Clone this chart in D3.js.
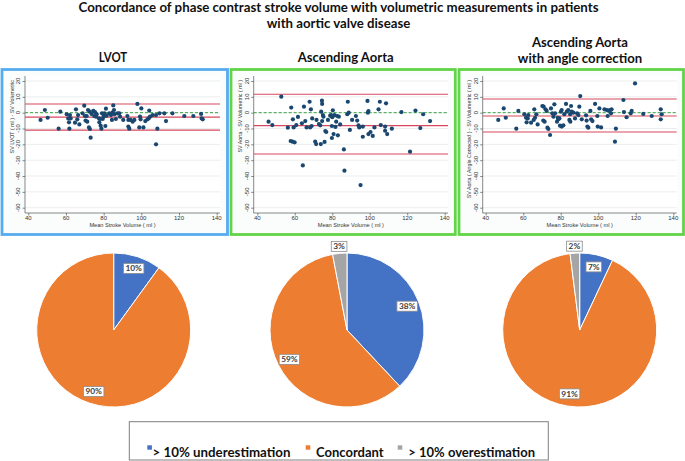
<!DOCTYPE html>
<html><head><meta charset="utf-8">
<script src="https://cdn.jsdelivr.net/npm/d3@7"></script>
<style>body{margin:0;background:#fff}svg{display:block}</style>
</head><body><svg id="c" width="685" height="461"></svg>
<script>
// ---------------- DATA ----------------
const titleLines = ["Concordance of phase contrast stroke volume with volumetric measurements in patients", "with aortic valve disease"];
const panelTitles = [["LVOT"], ["Ascending Aorta"], ["Ascending Aorta", "with angle correction"]];
const yAxisTitles = ["SV LVOT ( ml ) - SV Volumetric", "SV Aorta - SV Volumetric ( ml )", "SV Aorta ( Angle Corrected ) - SV Volumetric ( ml )"];
const xAxisTitle = "Mean Stroke Volume ( ml )";
const xTicks = [40, 60, 80, 100, 120, 140];
const yTicks = [20, 10, 0, -10, -20, -30, -40, -50, -60];

// [mean stroke volume, difference]
const lvotPoints = [[46.5,-4.6],[48.8,1.7],[50.3,-3.2],[56.1,-10.1],[57,0.6],[60.4,-1],[61.2,-3.6],[61.6,-6.1],[61.8,-10.1],[62.1,-1.5],[62.5,-3.6],[64.8,-6.3],[65.3,2.1],[66,-4.2],[66.4,-1.5],[67.1,-7.4],[68.8,-0.4],[69.7,4.4],[70.1,-2.1],[70.4,-5],[71,-2.1],[71.3,-5.7],[71.7,1.7],[72.2,-9.3],[72.6,0.6],[72.7,-10.3],[73.1,-15.8],[73.6,-0.8],[74.5,1.1],[75,-2.1],[75.4,0.4],[75.9,-2.5],[76.3,-1],[77.5,-3.6],[77.7,-6.1],[78.1,-4],[78.4,-8.2],[78.8,-10.1],[79.1,-0.4],[79.5,-4],[80,-2.5],[80.4,-0.4],[80.9,-8.4],[81.2,2.5],[81.6,-1.9],[83,-0.4],[83.9,-1.5],[84.4,-4.6],[84.8,0.2],[85.1,4.6],[85.5,1.7],[85.8,-1],[86.5,-4],[87.4,-0.4],[88.3,-0.4],[88.7,-2.5],[90.4,-4.6],[92.6,-2.1],[93.1,-4.6],[93.1,-8.8],[93.6,-10.1],[94.3,-4.6],[95.4,-5.7],[96.3,-4.6],[97.9,5.5],[98.9,-9.3],[99.3,-2.5],[99.6,-4.2],[100,2.7],[101.1,-9.3],[102.1,-5.3],[103.2,-4.2],[103.9,-3.6],[104.2,1.3],[104.6,-2.5],[106,-1.5],[107.8,-1.5],[107.8,-20],[108.5,-10.1],[109.6,-0.4],[112.2,-0.4],[113.1,-5.3],[116.5,-0.4],[122.8,-2.1],[127.6,-2.1],[131.7,-0.8],[132,-3.6],[132.6,-4.2]];
const aortaPoints = [[46,-5.7],[48,-7.8],[52.8,10.1],[56.3,-9.5],[58.1,3.2],[57.8,-17.9],[58.8,-18.3],[59,-4.2],[59.4,-9.3],[59.9,-18.7],[60.8,-7.8],[61.7,-2.7],[63.8,-6.7],[64.3,-33.3],[64.9,3.8],[65.6,-5.3],[66.3,-9.3],[67.9,6.9],[68.2,-9.3],[68.6,2.1],[69,-8.4],[69.3,-3.6],[70.9,-18.3],[71.4,-19.8],[71.6,-4.6],[72.9,-7.2],[73.6,-8],[73.9,-19.8],[74.1,0.6],[74.5,7.6],[74.6,5.5],[74.6,-5.3],[75,-1.5],[75.3,-2.5],[75.9,-18.5],[76.3,-11.6],[76.8,-12.2],[77.7,-4.6],[78.9,-1.9],[79.4,-1.5],[79.8,-8.4],[79.8,-16],[80,-2.9],[80.3,1.5],[80.7,-13.5],[81.2,-1.5],[81.7,-9],[82.1,-5.7],[82.6,-2.1],[83,-14.3],[83.5,-2.5],[84.2,-7.4],[86.2,-23.2],[86.5,-36.6],[88.3,6.9],[88,-1],[88.8,0],[89.4,-10.9],[90.6,-4.6],[92.6,-2.1],[93.3,-5],[94,-8],[94.4,-9.3],[95.1,-45.7],[96.3,-8.8],[96.3,-15.2],[98.8,7.4],[99,0],[99.3,1],[99.3,-13.5],[100.4,-12.2],[101.6,-14.7],[102.5,-9.3],[104.7,2.1],[105.4,6.9],[105.9,-7.8],[108.2,-8.8],[108.2,-11.4],[108.7,5.9],[109.3,-13.5],[111.8,-10.1],[116.9,0.4],[121.5,-24.6],[124.4,1.3],[127,-9.7],[128.5,-1],[132.2,-5.3]];
const anglePoints = [[46.7,-4.6],[49.6,2.7],[50.7,-3.2],[56.3,-10.1],[57.4,1.1],[60.6,-1],[61.5,-3.2],[61.8,-6.1],[62.4,-3.6],[62.7,-1.5],[64.2,-6.3],[65.6,-4.6],[65.9,2.1],[66.3,-3.2],[67,-1],[67.7,-7.4],[70.2,4.2],[70.9,3.8],[70.7,-5],[71.4,-5.7],[71.9,2.1],[72.5,1.1],[72.9,-9.5],[73.4,-10.3],[74.3,-14.1],[74.8,2.7],[75.5,-0.4],[76.1,-2.5],[76.6,5.3],[77,-0.4],[78,-5.7],[78.4,-3.2],[78.7,-4.2],[79.3,-3.6],[79.6,-8.2],[80.1,0.6],[80.5,1.7],[80.5,-8.8],[81.4,-8],[81.9,-1],[82.8,5.5],[83.2,0.6],[84,1.7],[84.6,-4.6],[85,-1],[85.1,-5.7],[85.5,4.2],[85.8,0.6],[86.7,0],[87.6,-3.6],[88.7,-0.4],[89.4,-1.5],[89.9,3.8],[90.4,10.5],[91.2,-4.2],[93.5,-1.7],[93.8,-5],[94.2,-8.8],[94.7,-9.5],[95.8,1.1],[96.2,-4.2],[96.9,-5.3],[98.3,5.5],[99.5,-2.1],[99.7,-8.8],[100.6,2.7],[101.5,-9.3],[103.3,2.1],[104.5,1.7],[105,-2.1],[105.4,1.3],[106.3,1.7],[106.8,-0.4],[107.1,2.1],[108.9,-18.3],[109.4,-10.1],[113.4,8],[113.7,0.4],[115.1,-2.9],[117.3,-0.4],[117.8,1.1],[119.6,18.5],[124,-0.8],[128.5,-2.1],[133.3,2.1],[133.3,-4.2],[133.8,-1]];

// limits of agreement: [upper, mean bias, lower]
const lvotLimits = [5.5, -2.8, -11];
const aortaLimits = [11.6, -8.2, -26.1];
const angleLimits = [8.6, -2.1, -12.2];

const pieCategories = ["> 10% underestimation", "Concordant", "> 10% overestimation"];
const lvotPie = [10, 90, 0];
const aortaPie = [38, 59, 3];
const anglePie = [7, 91, 2];

// ---------------- LAYOUT / STYLE ----------------
const svg = d3.select("#c");
const FONT = "Lato, 'Open Sans', Arial, sans-serif";
const pieColors = ["#4472c4", "#ed7d31", "#a5a5a5"];

function fit(sel, w) {
  const n = sel.node();
  const l = n.getComputedTextLength();
  if (Math.abs(l - w) / w > 0.02) sel.attr("textLength", w).attr("lengthAdjust", "spacingAndGlyphs");
}

// Title
const tl = [[12.3, 520], [28, 143.6]];
titleLines.forEach((t, i) => {
  const s = svg.append("text").attr("x", 338.5).attr("y", tl[i][0]).attr("text-anchor", "middle")
    .attr("font-family", FONT).attr("font-weight", "bold").attr("font-size", 12.5).attr("fill", "#111").text(t);
  fit(s, tl[i][1]);
});

const panels = [
  { pts: lvotPoints, lim: lvotLimits, pie: lvotPie, color: "#55acee", box: [2, 69.5, 227.5, 234.5],
    left: 25, right: 220, x40: 28.3, x140: 216.7, cx: 113.7, titleX: 113, titleY: [61.5], titleW: [28.4] },
  { pts: aortaPoints, lim: aortaLimits, pie: aortaPie, color: "#62d448", box: [231, 69.5, 455.3, 234.5],
    left: 253.7, right: 448, x40: 257.3, x140: 444.7, cx: 347, titleX: 345.7, titleY: [61.5], titleW: [96] },
  { pts: anglePoints, lim: angleLimits, pie: anglePie, color: "#62d448", box: [459, 69.5, 683.5, 234.5],
    left: 482.7, right: 676.7, x40: 485.7, x140: 673.3, cx: 579.7, titleX: 580, titleY: [46.5, 62.5], titleW: [96, 124.3] }
];
const plotTop = 76, plotBottom = 213;

panels.forEach((p, pi) => {
  // panel title
  panelTitles[pi].forEach((t, j) => {
    const s = svg.append("text").attr("x", p.titleX).attr("y", p.titleY[j]).attr("text-anchor", "middle")
      .attr("font-family", FONT).attr("font-weight", "bold").attr("font-size", 13.5).attr("fill", "#111").text(t);
    fit(s, p.titleW[j]);
  });
  // border
  svg.append("rect").attr("x", p.box[0]).attr("y", p.box[1]).attr("width", p.box[2] - p.box[0]).attr("height", p.box[3] - p.box[1])
    .attr("fill", "#fbfdfd").attr("stroke", p.color).attr("stroke-width", 2.8);
  svg.append("rect").attr("x", p.left).attr("y", plotTop).attr("width", p.right - p.left).attr("height", plotBottom - plotTop)
    .attr("fill", "#fff");

  const x = d3.scaleLinear().domain([40, 140]).range([p.x40, p.x140]);
  const y = d3.scaleLinear().domain([20, -60]).range([81, 207.7]);
  const g = svg.append("g");

  // gridlines
  g.selectAll(".grid").data(yTicks).join("line")
    .attr("x1", p.left).attr("x2", p.right).attr("y1", d => y(d)).attr("y2", d => y(d))
    .attr("stroke", "#e6eaea").attr("stroke-width", 0.8);

  // axes
  const yAx = g.append("g").attr("transform", `translate(${p.left},0)`)
    .call(d3.axisLeft(y).tickValues(yTicks).tickSize(2.5).tickFormat(""));
  const xAx = g.append("g").attr("transform", `translate(0,${plotBottom})`)
    .call(d3.axisBottom(x).tickValues(xTicks).tickSize(2.5).tickFormat(""));
  [yAx, xAx].forEach(a => { a.selectAll("path,line").attr("stroke", "#555").attr("stroke-width", 0.7); });
  yAx.select(".domain").attr("d", `M0,${plotTop}V${plotBottom}`);
  xAx.select(".domain").attr("d", `M${p.left},0H${p.right}`);

  // tick labels
  g.selectAll(".yl").data(yTicks).join("text")
    .attr("transform", d => `translate(${p.left - 5},${y(d)}) rotate(-90)`)
    .attr("text-anchor", "middle").attr("font-family", "Arial, sans-serif").attr("font-size", 6)
    .attr("fill", "#333").text(d => d);
  g.selectAll(".xl").data(xTicks).join("text")
    .attr("x", d => x(d)).attr("y", plotBottom + 6.8)
    .attr("text-anchor", "middle").attr("font-family", "Arial, sans-serif").attr("font-size", 6)
    .attr("fill", "#333").text(d => d);

  // axis titles
  g.append("text").attr("x", (p.left + p.right) / 2).attr("y", 226.6).attr("text-anchor", "middle")
    .attr("font-family", "Arial, sans-serif").attr("font-size", 5.6).attr("fill", "#333").text(xAxisTitle);
  g.append("text").attr("transform", `translate(${p.left - 11.3},80) rotate(-90)`).attr("text-anchor", "end")
    .attr("font-family", "Arial, sans-serif").attr("font-size", 5.3).attr("fill", "#333").text(yAxisTitles[pi]);

  // zero reference (dashed)
  g.append("line").attr("x1", p.left).attr("x2", p.right).attr("y1", y(0)).attr("y2", y(0))
    .attr("stroke", "#3aa346").attr("stroke-width", 1).attr("stroke-dasharray", "3,2");
  // limits of agreement
  g.selectAll(".lim").data(p.lim).join("line")
    .attr("x1", p.left).attr("x2", p.right).attr("y1", d => y(d)).attr("y2", d => y(d))
    .attr("stroke", "#d8495f").attr("stroke-width", 1.1);

  // points
  g.selectAll(".pt").data(p.pts).join("circle")
    .attr("cx", d => x(d[0])).attr("cy", d => y(d[1])).attr("r", 2.1).attr("fill", "#1a476f");

  // ----- pie -----
  const cy = 330, r = 77;
  const pieG = svg.append("g").attr("transform", `translate(${p.cx},${cy})`);
  const arcs = d3.pie().sort(null).value(d => d)(p.pie);
  const arc = d3.arc().innerRadius(0).outerRadius(r);
  pieG.selectAll("path").data(arcs.filter(a => a.value > 0)).join("path")
    .attr("d", arc).attr("fill", a => pieColors[a.index]).attr("stroke", "#fff").attr("stroke-width", 1);

  arcs.filter(a => a.value > 0).forEach(a => {
    const mid = (a.startAngle + a.endAngle) / 2;
    const R = a.value < 5 ? r + 7 : r * 0.84;
    const lx = R * Math.sin(mid), ly = -R * Math.cos(mid);
    const lg = pieG.append("g").attr("transform", `translate(${lx},${ly})`);
    const rect = lg.append("rect").attr("fill", "#fff").attr("stroke", "#8c8c8c").attr("stroke-width", 0.8);
    const t = lg.append("text").attr("text-anchor", "middle").attr("dy", "0.35em")
      .attr("font-family", FONT).attr("font-weight", "bold").attr("font-size", 8.3).attr("fill", "#404040")
      .text(a.value + "%");
    const w = t.node().getComputedTextLength() + 4;
    rect.attr("x", -w / 2).attr("y", -5).attr("width", w).attr("height", 10);
  });
});

// ---------------- LEGEND ----------------
svg.append("rect").attr("x", 129.3).attr("y", 421.7).attr("width", 419).attr("height", 38.3)
  .attr("fill", "#fff").attr("stroke", "#7f7f7f").attr("stroke-width", 1);
const legItems = [
  { sq: 147.3, tx: 152.5, w: 138 },
  { sq: 305.7, tx: 316, w: 66.7 },
  { sq: 397.7, tx: 408.3, w: 126 }
];
pieCategories.forEach((c, i) => {
  svg.append("rect").attr("x", legItems[i].sq).attr("y", 445.3).attr("width", 4.6).attr("height", 4.4).attr("fill", pieColors[i]);
  const s = svg.append("text").attr("x", legItems[i].tx).attr("y", 456.8)
    .attr("font-family", FONT).attr("font-weight", "bold").attr("font-size", 13).attr("fill", "#111").text(c);
  fit(s, legItems[i].w);
});
</script>
</body></html>
